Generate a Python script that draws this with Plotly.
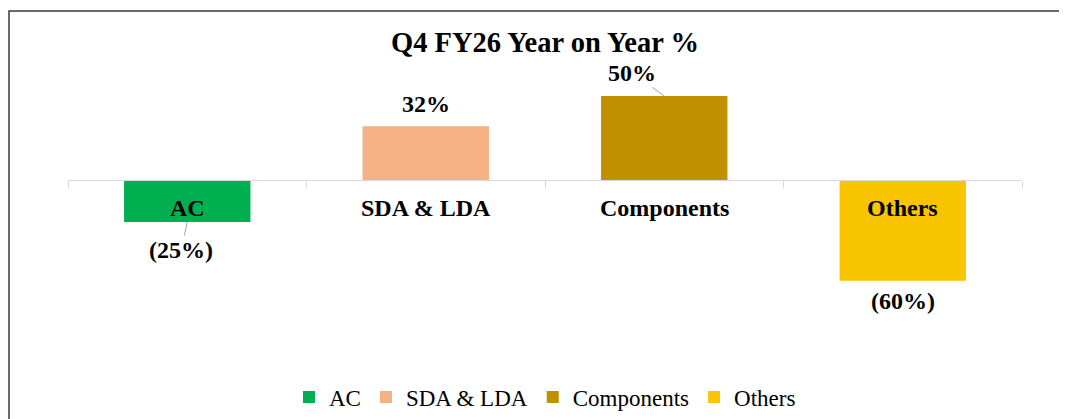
import plotly.graph_objects as go

categories = ["AC", "SDA & LDA", "Components", "Others"]
values = [-25, 32, 50, -60]
colors = ["#00B050", "#F4B183", "#BF9000", "#F9C500"]
title_text = "Q4 FY26 Year on Year %"

FONT = "Liberation Serif, Times New Roman, serif"

# page body has an 8px margin; figure is sized to fill the remaining window
W, H = 1059, 411
mt, mb, ml, mr = 52, 79, 60, 45
ymin, ymax = -95.2, 71.4

def fmt(v):
    return f"({abs(v)}%)" if v < 0 else f"{v}%"

fig = go.Figure()
for c, v, col in zip(categories, values, colors):
    fig.add_trace(go.Bar(x=[c], y=[v], name=c, marker=dict(color=col, line=dict(width=0)),
                         hoverinfo="x+y"))

annotations = []
# category labels at the zero line
for c in categories:
    annotations.append(dict(x=c, y=0, text=f"<b>{c}</b>", showarrow=False, yanchor="middle",
                            yshift=-28, font=dict(family=FONT, size=24, color="black")))
# data labels
leader = {"AC": (-6, 28), "Components": (-32, -23)}
for c, v in zip(categories, values):
    txt = f"<b>{fmt(v)}</b>"
    f = dict(family=FONT, size=24, color="black")
    if c in leader:
        ax, ay = leader[c]
        annotations.append(dict(x=c, y=v, text=txt, showarrow=True, ax=ax, ay=ay,
                                arrowhead=0, arrowwidth=1, arrowcolor="#A6A6A6",
                                standoff=0, font=f))
    elif v >= 0:
        annotations.append(dict(x=c, y=v, text=txt, showarrow=False, yanchor="bottom",
                                yshift=7, font=f))
    else:
        annotations.append(dict(x=c, y=v, text=txt, showarrow=False, yanchor="top",
                                yshift=-5, font=f))

plot_h = H - mt - mb
plot_w = W - ml - mr
fig.update_layout(
    width=W, height=H,
    margin=dict(t=mt, b=mb, l=ml, r=mr, autoexpand=False),
    paper_bgcolor="white", plot_bgcolor="white",
    barmode="relative", bargap=0.47,
    title=dict(text=f"<b>{title_text}</b>", x=0.5, xref="paper", xanchor="center",
               y=1 - 34 / H, yanchor="middle",
               font=dict(family=FONT, size=28.5, color="black")),
    xaxis=dict(showticklabels=False, showgrid=False, zeroline=False,
               showline=True, linecolor="#D9D9D9", linewidth=1,
               ticks="outside", tickson="boundaries", ticklen=7, tickcolor="#D9D9D9",
               anchor="free", position=(0 - ymin) / (ymax - ymin), side="bottom",
               range=[-0.5, len(categories) - 0.5]),
    yaxis=dict(visible=False, range=[ymin, ymax], showgrid=False, zeroline=False),
    legend=dict(orientation="h", x=0.5, xanchor="center", y=(plot_h - (389 - mt)) / plot_h,
                yanchor="middle", font=dict(family=FONT, size=23, color="black"),
                traceorder="normal"),
    annotations=annotations,
    showlegend=True,
    shapes=[dict(type="rect", xref="paper", yref="paper",
                 x0=(1 - ml) / plot_w, x1=1.3,
                 y0=-1.0, y1=(plot_h + mt - 3) / plot_h,
                 line=dict(color="#3A3A3A", width=1.5), fillcolor="rgba(0,0,0,0)",
                 layer="below")],
)

fig.write_html("out.html")
